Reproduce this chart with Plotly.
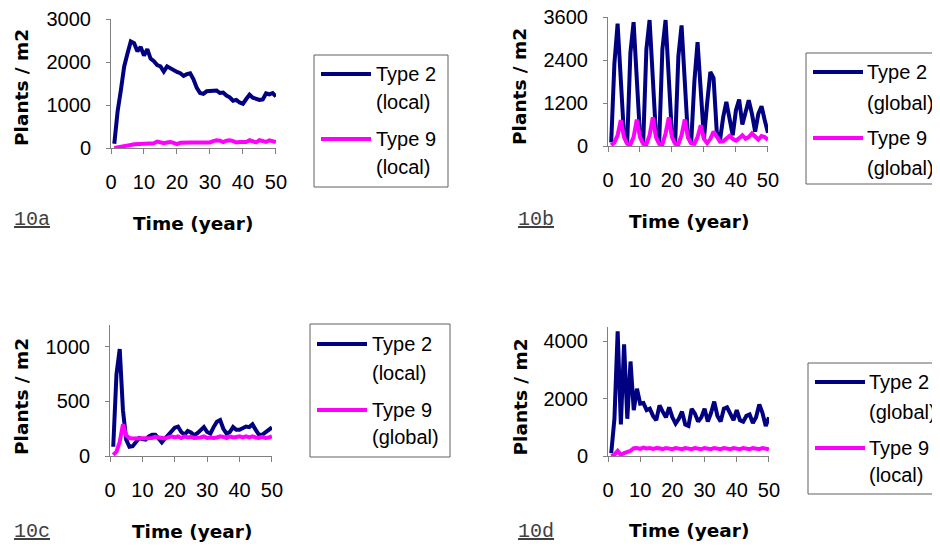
import plotly.graph_objects as go

# ---------------- data ----------------
years = list(range(1, 51))

a_type2 = [100, 850, 1350, 1900, 2200, 2480, 2440, 2250, 2350, 2150,
           2300, 2080, 2020, 1930, 1900, 1780, 1900, 1850, 1800, 1770,
           1740, 1680, 1720, 1740, 1600, 1400, 1280, 1260, 1320, 1330,
           1320, 1340, 1280, 1290, 1220, 1180, 1100, 1120, 1060, 1030,
           1140, 1240, 1170, 1150, 1120, 1130, 1270, 1250, 1280, 1200]
a_type9 = [0, 10, 30, 50, 55, 70, 85, 90, 90, 90,
           95, 95, 110, 150, 140, 110, 130, 140, 120, 90,
           120, 130, 130, 130, 130, 130, 130, 130, 130, 130,
           160, 180, 170, 140, 170, 180, 160, 130, 140, 140,
           140, 180, 160, 130, 180, 170, 140, 180, 170, 140]

b_type2 = [100, 2300, 3420, 1700, 300, 80, 2600, 3460, 1800, 300,
           80, 2700, 3520, 1800, 300, 80, 2700, 3520, 1800, 300,
           80, 2500, 3370, 1700, 250, 80, 1800, 2900, 1300, 200,
           1200, 2070, 1900, 400, 150, 800, 1230, 720, 300, 1000,
           1300, 600, 900, 1280, 900, 400, 900, 1110, 720, 370]
b_type9 = [20, 100, 300, 720, 250, 60, 40, 250, 740, 250,
           60, 50, 300, 800, 250, 60, 50, 350, 800, 250,
           60, 50, 300, 740, 250, 70, 60, 250, 580, 200,
           80, 200, 400, 250, 120, 130, 220, 280, 200, 150,
           220, 300, 200, 250, 350, 250, 180, 280, 250, 170]

c_type2 = [85, 750, 980, 420, 150, 85, 90, 130, 165, 155,
           150, 180, 195, 195, 160, 125, 160, 190, 220, 260,
           270, 220, 195, 230, 215, 190, 210, 240, 265, 220,
           205, 265, 315, 330, 250, 205, 220, 265, 240, 240,
           255, 270, 265, 290, 240, 195, 195, 220, 245, 262]
c_type9 = [10, 40, 130, 290, 190, 165, 160, 160, 160, 160,
           160, 160, 165, 175, 170, 160, 160, 170, 180, 170,
           180, 165, 180, 170, 175, 165, 165, 170, 180, 165,
           170, 165, 170, 180, 175, 165, 180, 170, 175, 180,
           170, 180, 170, 180, 170, 165, 175, 165, 170, 180]

d_type2 = [100, 1300, 4350, 1100, 3900, 1300, 3300, 1600, 2350, 1830,
           1850, 1600, 1650, 1400, 1250, 1770, 1550, 1350, 1700, 1350,
           1130, 1300, 1550, 1100, 1050, 1650, 1480, 1200, 1350, 1650,
           1200, 1500, 1900, 1400, 1200, 1650, 1700, 1450, 1250, 1600,
           1250, 1200, 1400, 1450, 1150, 1350, 1800, 1500, 1050, 1350]
d_type9 = [0, 50, 180, 40, 100, 150, 180, 270, 280, 250,
           290, 260, 280, 250, 280, 270, 240, 280, 260, 240,
           280, 250, 240, 280, 250, 240, 280, 260, 240, 280,
           250, 240, 280, 260, 240, 280, 250, 240, 280, 250,
           240, 280, 260, 240, 280, 250, 240, 280, 240, 230]

panels = [
    # id, type2 series, type9 series, type2 scope, type9 scope, y max, y step, label
    ("a", a_type2, a_type9, "(local)", "(local)", 3000, 1000, "10a"),
    ("b", b_type2, b_type9, "(global)", "(global)", 3600, 1200, "10b"),
    ("c", c_type2, c_type9, "(local)", "(global)", 1200, 500, "10c"),
    ("d", d_type2, d_type9, "(global)", "(local)", 4500, 2000, "10d"),
]
x_ticks = [0, 10, 20, 30, 40, 50]

# ---------------- layout geometry ----------------
# Positions below are given in window pixels; the page body has an 8px margin,
# so the figure starts 8px in and is sized to reach the window's far edges.
OFF = 8
WIN_W, WIN_H = 940, 546
W, H = WIN_W - OFF, WIN_H - OFF
NAVY = "#000080"
MAGENTA = "#FF00FF"
AXIS = "#808080"
FONT = "Liberation Sans, Arial, sans-serif"
BOLD = "DejaVu Sans, Verdana, sans-serif"

geom = {
    # plot area (l, r, t, b); legend box (l, t, r, b); legend row y centres; etc.
    "a": dict(l=111, r=276, t=19, b=148, box=(314, 55, 448, 187), sw=(321, 371), tx=374,
              rows=(74, 102, 139, 167), ytitle=(21.5, 87.5), xtitle=(193, 223), lab=(12, 220)),
    "b": dict(l=608, r=768, t=17, b=146, box=(806, 53, 960, 184), sw=(813, 863), tx=865,
              rows=(72, 103, 138, 168), ytitle=(519.5, 86.5), xtitle=(689, 221), lab=(516, 220)),
    "c": dict(l=110, r=272, t=325, b=456, box=(310, 324, 450, 457), sw=(317, 367), tx=370,
              rows=(344, 373, 410, 437), ytitle=(21, 397), xtitle=(191.5, 531), lab=(12, 531)),
    "d": dict(l=608, r=769, t=327, b=456, box=(808, 363, 960, 494), sw=(815, 865), tx=867,
              rows=(382, 412, 448, 475), ytitle=(519.5, 397), xtitle=(689, 530), lab=(516, 531)),
}

def px(x):
    return (x - OFF) / W

def py(y):
    return 1 - (y - OFF) / H

fig = go.Figure()
layout = dict(
    width=W, height=H,
    margin=dict(l=0, r=0, t=0, b=0, pad=0, autoexpand=False),
    paper_bgcolor="white", plot_bgcolor="white",
    showlegend=False,
    annotations=[], shapes=[],
)

def text_ann(text, x, y, size=20, family=FONT, color="black", xanchor="left", angle=0):
    return dict(text=text, showarrow=False, textangle=angle,
                x=px(x), y=py(y), xref="paper", yref="paper",
                xanchor=xanchor, yanchor="middle",
                font=dict(family=family, size=size, color=color))

for i, (pid, s2, s9, sc2, sc9, ymax, ystep, label) in enumerate(panels):
    g = geom[pid]
    k = "" if i == 0 else str(i + 1)
    fig.add_trace(go.Scatter(
        x=years, y=s2, mode="lines", name="Type 2 " + sc2,
        line=dict(color=NAVY, width=4),
        xaxis="x" + k, yaxis="y" + k,
    ))
    fig.add_trace(go.Scatter(
        x=years, y=s9, mode="lines", name="Type 9 " + sc9,
        line=dict(color=MAGENTA, width=4),
        xaxis="x" + k, yaxis="y" + k,
    ))
    layout["xaxis" + k] = dict(
        domain=[px(g["l"]), px(g["r"])], anchor="y" + k,
        range=[0, 50.02], tickvals=x_ticks, showgrid=False, zeroline=False,
        showline=True, linecolor=AXIS, linewidth=1,
        ticks="outside", ticklen=5, tickcolor=AXIS,
        ticklabelstandoff=11, automargin=False, ticklabeloverflow="allow",
        tickfont=dict(family=FONT, size=20, color="black"),
    )
    layout["yaxis" + k] = dict(
        domain=[py(g["b"]), py(g["t"])], anchor="x" + k,
        range=[0, ymax * 1.001], tickvals=list(range(0, ymax + 1, ystep)),
        showgrid=False, zeroline=False,
        showline=True, linecolor=AXIS, linewidth=1,
        ticks="outside", ticklen=4, tickcolor=AXIS,
        ticklabelstandoff=11, automargin=False, ticklabeloverflow="allow",
        tickfont=dict(family=FONT, size=20, color="black"),
    )
    # legend box
    bl, bt, br, bb = g["box"]
    layout["shapes"].append(dict(type="rect", xref="paper", yref="paper",
                                 x0=px(bl), x1=px(br), y0=py(bb), y1=py(bt),
                                 line=dict(color="#606060", width=1), fillcolor="rgba(0,0,0,0)"))
    r1, r2, r3, r4 = g["rows"]
    s0, s1 = g["sw"]
    for yy, col in ((r1, NAVY), (r3, MAGENTA)):
        layout["shapes"].append(dict(type="line", xref="paper", yref="paper",
                                     x0=px(s0), x1=px(s1), y0=py(yy), y1=py(yy),
                                     line=dict(color=col, width=4)))
    layout["annotations"] += [
        text_ann("Type 2", g["tx"], r1),
        text_ann(sc2, g["tx"], r2),
        text_ann("Type 9", g["tx"], r3),
        text_ann(sc9, g["tx"], r4),
        text_ann("<b>Plants / m2</b>", g["ytitle"][0], g["ytitle"][1], size=18.5,
                 family=BOLD, xanchor="center", angle=-90),
        text_ann("<b>Time (year)</b>", g["xtitle"][0], g["xtitle"][1], size=18.5,
                 family=BOLD, xanchor="center"),
        text_ann(f"<u>{label}</u>", g["lab"][0], g["lab"][1], size=20,
                 family="Liberation Mono, Courier New, monospace", color="#404040"),
    ]

fig.update_layout(**layout)
fig.write_html("out.html")
